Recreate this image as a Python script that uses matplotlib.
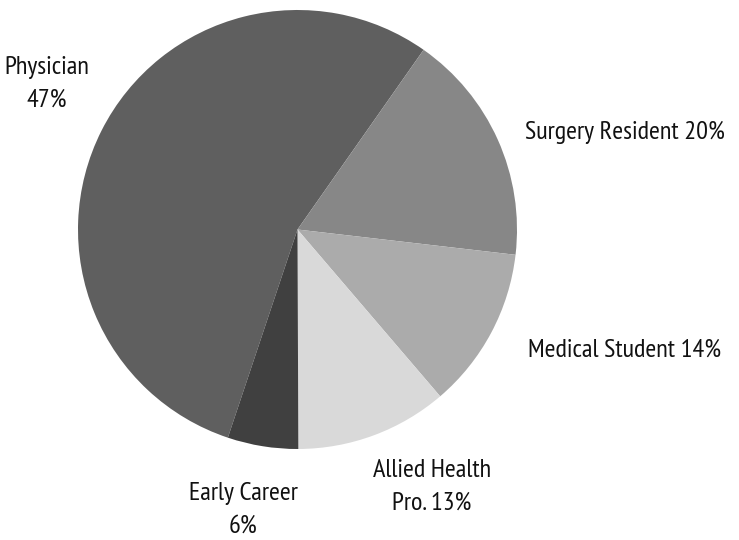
import matplotlib
matplotlib.use("Agg")
import matplotlib.pyplot as plt
from matplotlib import font_manager

categories = ["Physician", "Surgery Resident", "Medical Student", "Allied Health Pro.", "Early Career"]
values = [54.6, 17.1, 11.9, 11.2, 5.2]
label_texts = ["Physician\n47%", "Surgery Resident 20%", "Medical Student 14%", "Allied Health\nPro. 13%", "Early Career\n6%"]
colors = ["#5f5f5f", "#878787", "#ababab", "#d9d9d9", "#404040"]

names = {f.name for f in font_manager.fontManager.ttflist}
print(sorted(names))
family = 'DejaVu Sans'
for cand in ['PT Sans Narrow', 'Fira Sans Condensed', 'Roboto Condensed', 'Liberation Sans Narrow',
             'DejaVu Sans Condensed', 'Open Sans Condensed', 'Lato', 'Roboto']:
    if cand in names:
        family = cand
        break
print("using", family)
plt.rcParams['font.family'] = [family, 'DejaVu Sans']

W, H = 739, 540
fig = plt.figure(figsize=(W / 100, H / 100), dpi=100)
cx, cy, r = 297.5, 229.5, 219.5
ax = fig.add_axes([(cx - r) / W, (H - cy - r) / H, 2 * r / W, 2 * r / H])
ax.pie(values, colors=colors, startangle=251.5, counterclock=False,
       wedgeprops=dict(linewidth=0), radius=1)
ax.set_xlim(-1, 1)
ax.set_ylim(-1, 1)
ax.set_aspect('equal')
ax.axis('off')

# scale font so that the widest single-line label is ~200 px like the reference
renderer = fig.canvas.get_renderer()
probe = fig.text(0, 0, "Surgery Resident 20%", fontsize=17)
w = probe.get_window_extent(renderer).width
probe.remove()
fs = 17 * 200 / w
print("fontsize", fs)

label_px = [(47, 84), (625, 132), (625, 350), (432, 487), (243, 510)]
for txt, (px, py) in zip(label_texts, label_px):
    ax.text((px - cx) / r, (cy - py) / r, txt, ha='center', va='center',
            fontsize=fs, color='#111111', linespacing=1.55, clip_on=False)

fig.savefig("out.png", dpi=100)
